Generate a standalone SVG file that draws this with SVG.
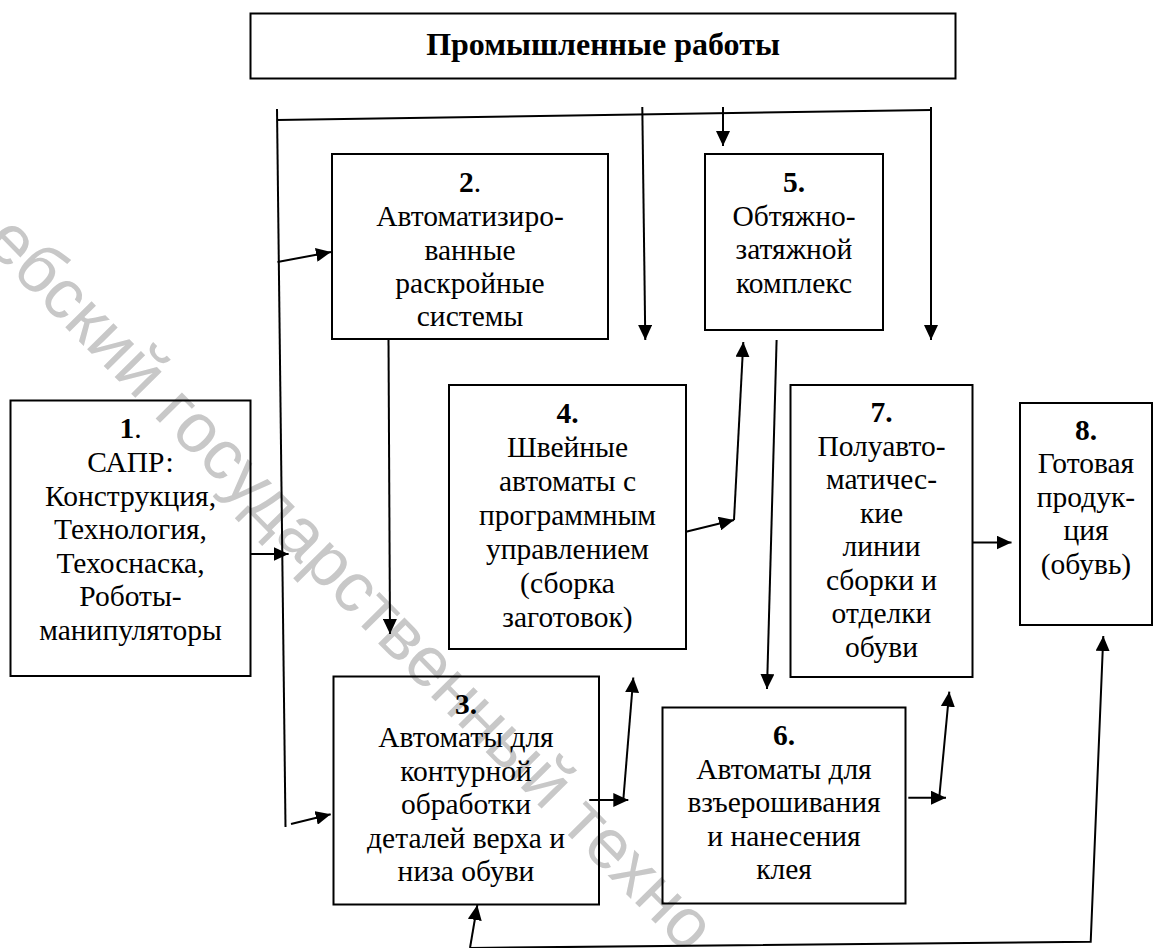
<svg xmlns="http://www.w3.org/2000/svg" width="1155" height="948" viewBox="0 0 1155 948">
<style>
.box{fill:none;stroke:#000;stroke-width:2}
.t{font-family:'Liberation Serif','Times New Roman',serif;font-size:29.5px;fill:#000;text-anchor:middle}
.b{font-weight:bold}
.ttl{font-family:'Liberation Serif','Times New Roman',serif;font-size:32px;font-weight:bold;fill:#000;text-anchor:middle}
.ln{fill:none;stroke:#000;stroke-width:2}
.ar{fill:none;stroke:#000;stroke-width:2;marker-end:url(#ah)}
.wm{font-family:'Liberation Sans',Arial,sans-serif;font-size:70px;fill:#c8c8c8}
</style>
<defs>
<marker id="ah" markerUnits="userSpaceOnUse" markerWidth="15" markerHeight="14" refX="15" refY="7" orient="auto" viewBox="0 0 15 14">
<path d="M0,0 L15,7 L0,14 z" fill="#000"/>
</marker>
</defs>
<rect width="1155" height="948" fill="#fff"/>
<g id="watermark">
<text class="wm" x="-17" y="244" transform="rotate(45.3 -17 244)">ебский государственный техно</text>
</g>
<g id="title">
<rect class="box" x="250.5" y="13.5" width="705" height="65"/>
<text class="ttl" x="603" y="54.5">Промышленные работы</text>
</g>
<g id="n1">
<rect class="box" x="10.5" y="400.5" width="240" height="275.5"/>
<text class="t" x="130.5" y="438"><tspan class="b">1</tspan>.</text>
<text class="t" x="130.5" y="472">САПР:</text>
<text class="t" x="130.5" y="505.5">Конструкция,</text>
<text class="t" x="130.5" y="539">Технология,</text>
<text class="t" x="130.5" y="572.5">Техоснаска,</text>
<text class="t" x="130.5" y="606">Роботы-</text>
<text class="t" x="130.5" y="639.5">манипуляторы</text>
</g>
<g id="n2">
<rect class="box" x="332" y="154" width="276" height="185"/>
<text class="t" x="470" y="192"><tspan class="b">2</tspan>.</text>
<text class="t" x="470" y="226">Автоматизиро-</text>
<text class="t" x="470" y="259.5">ванные</text>
<text class="t" x="470" y="292.5">раскройные</text>
<text class="t" x="470" y="326">системы</text>
</g>
<g id="n3">
<rect class="box" x="333.5" y="676.5" width="265.5" height="228"/>
<text class="t b" x="466" y="713.5">3.</text>
<text class="t" x="466" y="747">Автоматы для</text>
<text class="t" x="466" y="780.5">контурной</text>
<text class="t" x="466" y="814">обработки</text>
<text class="t" x="466" y="847.5">деталей верха и</text>
<text class="t" x="466" y="881">низа обуви</text>
</g>
<g id="n4">
<rect class="box" x="449" y="385" width="237" height="264"/>
<text class="t b" x="567.5" y="423">4.</text>
<text class="t" x="567.5" y="457">Швейные</text>
<text class="t" x="567.5" y="491">автоматы с</text>
<text class="t" x="567.5" y="525">программным</text>
<text class="t" x="567.5" y="559">управлением</text>
<text class="t" x="567.5" y="593">(сборка</text>
<text class="t" x="567.5" y="627">заготовок)</text>
</g>
<g id="n5">
<rect class="box" x="705" y="154" width="178" height="176"/>
<text class="t b" x="794" y="192">5.</text>
<text class="t" x="794" y="225.5">Обтяжно-</text>
<text class="t" x="794" y="259">затяжной</text>
<text class="t" x="794" y="292.5">комплекс</text>
</g>
<g id="n6">
<rect class="box" x="662.5" y="707.5" width="243" height="196"/>
<text class="t b" x="784" y="745">6.</text>
<text class="t" x="784" y="778.5">Автоматы для</text>
<text class="t" x="784" y="812">взъерошивания</text>
<text class="t" x="784" y="845.5">и нанесения</text>
<text class="t" x="784" y="879">клея</text>
</g>
<g id="n7">
<rect class="box" x="790.5" y="385" width="182" height="292"/>
<text class="t b" x="881.5" y="422">7.</text>
<text class="t" x="881.5" y="455.5">Полуавто-</text>
<text class="t" x="881.5" y="489">матичес-</text>
<text class="t" x="881.5" y="522.5">кие</text>
<text class="t" x="881.5" y="556">линии</text>
<text class="t" x="881.5" y="589.5">сборки и</text>
<text class="t" x="881.5" y="623">отделки</text>
<text class="t" x="881.5" y="656.5">обуви</text>
</g>
<g id="n8">
<rect class="box" x="1020" y="403" width="132" height="222"/>
<text class="t b" x="1086" y="439.5">8.</text>
<text class="t" x="1086" y="473">Готовая</text>
<text class="t" x="1086" y="506.5">продук-</text>
<text class="t" x="1086" y="540">ция</text>
<text class="t" x="1086" y="573.5">(обувь)</text>
</g>
<g id="connectors">
<line class="ln" x1="277" y1="109" x2="285.5" y2="827"/>
<line class="ln" x1="277" y1="120" x2="931" y2="110"/>
<line class="ar" x1="277.5" y1="262" x2="331" y2="252"/>
<line class="ar" x1="250.8" y1="554" x2="288.6" y2="554"/>
<line class="ar" x1="291" y1="824" x2="330.7" y2="814.3"/>
<line class="ar" x1="642.3" y1="107" x2="645.3" y2="340"/>
<line class="ar" x1="723" y1="107" x2="723" y2="146"/>
<line class="ar" x1="931" y1="107" x2="931" y2="340"/>
<line class="ar" x1="388.5" y1="339" x2="390" y2="634"/>
<line class="ar" x1="686" y1="531.7" x2="734" y2="520"/>
<line class="ar" x1="734" y1="520" x2="743.3" y2="342"/>
<line class="ar" x1="776.6" y1="340" x2="767" y2="689"/>
<line class="ar" x1="589.3" y1="800" x2="628.3" y2="800"/>
<line class="ar" x1="623.3" y1="800" x2="633.3" y2="677.5"/>
<line class="ar" x1="908.3" y1="797.7" x2="946" y2="797.7"/>
<line class="ar" x1="939.3" y1="797" x2="949.3" y2="691.7"/>
<line class="ar" x1="972.5" y1="542.5" x2="1011.5" y2="542.5"/>
<polyline class="ar" points="470,948 1090.7,941.7 1103.3,636"/>
<line class="ar" x1="470" y1="948" x2="477.3" y2="905"/>
</g>
</svg>
